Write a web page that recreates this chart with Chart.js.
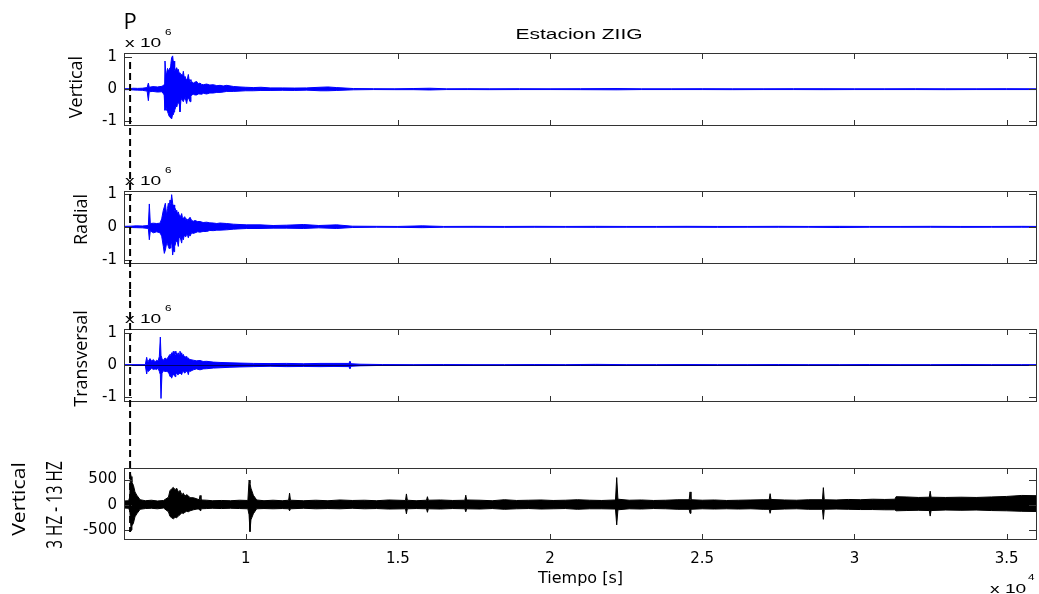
<!DOCTYPE html>
<html>
<head>
<meta charset="utf-8">
<script src="https://cdn.jsdelivr.net/npm/chart.js@4.4.1/dist/chart.umd.min.js"></script>
<style>
  body { margin: 0; background: #fff; }
  #wrap { position: relative; width: 1039px; height: 594px; overflow: hidden; background: #fff; }
  #wrap canvas { position: absolute; left: 0; }
</style>
</head>
<body>
<div id="wrap">
  <canvas id="c1" width="1039" height="150" style="top:0px"></canvas>
  <canvas id="c2" width="1039" height="140" style="top:150px"></canvas>
  <canvas id="c3" width="1039" height="138" style="top:290px"></canvas>
  <canvas id="c4" width="1039" height="166" style="top:428px"></canvas>
</div>
<script>
// time axis (s)
const tMin = 6000, tMax = 36000;
const xTicks = [10000, 15000, 20000, 25000, 30000, 35000];
const pArrival = 6200;

// Vertical (x 10^6) - upper / lower envelope
const vertT  = [6000,6200,6300,6450,6600,6760,6800,6830,6950,7100,
                7250,7320,7347,7375,7402,7430,7457,7485,7512,7540,
                7566,7599,7620,7643,7665,7687,7710,7731,7760,7785,
                7810,7840,7870,7895,7920,7950,7980,8004,8030,8059,
                8090,8114,8140,8169,8200,8224,8278,8330,8388,8440,
                8497,8550,8607,8716,8820,8935,9050,9155,9260,9374,
                9593,9812,10000,10250,10500,10800,11200,11600,12000,12440,12700,12990,
                13540,14200,14900,15500,16050,16600,17300,18000,19000,20000,21000,22200,23000,24000,25000,26000,27000,28000,29000,30000,31000,32000,33000,34000,35000,36000];
const vertHi = [0.015,0.015,0.03,0.025,0.03,0.05,0.19,0.06,0.08,0.07,
                0.09,0.14,0.88,0.45,0.51,0.65,0.56,0.62,0.67,0.80,
                0.99,1.04,0.85,0.88,0.60,0.56,0.65,0.67,0.58,0.62,
                0.50,0.51,0.45,0.46,0.40,0.56,0.35,0.40,0.32,0.30,
                0.35,0.46,0.28,0.30,0.25,0.24,0.19,0.22,0.24,0.17,
                0.19,0.15,0.14,0.16,0.13,0.14,0.11,0.12,0.10,0.12,
                0.085,0.07,0.06,0.05,0.06,0.04,0.04,0.035,0.04,0.06,0.07,0.05,
                0.02,0.015,0.012,0.02,0.03,0.012,0.015,0.012,0.015,0.012,0.015,0.02,0.012,0.012,0.015,0.012,0.012,0.015,0.015,0.012,0.012,0.015,0.012,0.012,0.015,0.012];
const vertLo = [-0.015,-0.015,-0.025,-0.03,-0.035,-0.06,-0.36,-0.08,-0.07,-0.09,
                -0.08,-0.18,-0.66,-0.55,-0.66,-0.70,-0.77,-0.85,-0.87,-0.90,
                -0.93,-0.78,-0.80,-0.71,-0.65,-0.61,-0.50,-0.55,-0.45,-0.45,
                -0.40,-0.71,-0.35,-0.29,-0.36,-0.39,-0.30,-0.23,-0.35,-0.45,
                -0.28,-0.29,-0.32,-0.39,-0.22,-0.18,-0.16,-0.18,-0.18,-0.15,
                -0.15,-0.16,-0.13,-0.15,-0.12,-0.12,-0.10,-0.10,-0.09,-0.07,
                -0.07,-0.06,-0.05,-0.05,-0.04,-0.04,-0.035,-0.04,-0.03,-0.05,-0.05,-0.04,
                -0.02,-0.012,-0.015,-0.015,-0.025,-0.012,-0.012,-0.015,-0.012,-0.012,-0.015,-0.02,-0.012,-0.012,-0.012,-0.015,-0.012,-0.012,-0.015,-0.012,-0.012,-0.012,-0.015,-0.012,-0.012,-0.012];

// Radial (x 10^6)
const radT  = [6000,6200,6400,6600,6800,6832,6865,6964,7073,7183,
               7238,7292,7325,7358,7402,7430,7457,7485,7512,7540,
               7566,7599,7620,7643,7665,7687,7710,7731,7760,7785,
               7810,7840,7870,7895,7920,7950,7980,8004,8030,8059,
               8090,8114,8140,8169,8224,8280,8333,8420,8497,8600,
               8716,8820,8935,9050,9155,9374,9593,10031,10469,10900,
               11345,11893,12400,12988,
               13500,14300,15000,15800,16500,17500,18500,19500,20500,21500,22500,23500,24500,25500,26500,27500,28500,29500,30500,31500,32500,33500,34500,35500,36000];
const radHi = [0.015,0.02,0.03,0.025,0.04,0.69,0.10,0.11,0.10,0.11,
               0.24,0.50,0.60,0.71,0.34,0.55,0.71,0.62,0.81,0.70,
               0.97,0.71,0.62,0.66,0.50,0.55,0.46,0.50,0.38,0.45,
               0.36,0.34,0.30,0.40,0.28,0.24,0.30,0.29,0.22,0.24,
               0.20,0.24,0.22,0.29,0.19,0.17,0.19,0.16,0.16,0.13,
               0.14,0.12,0.115,0.10,0.115,0.10,0.08,0.06,0.06,0.04,
               0.05,0.07,0.04,0.06,
               0.02,0.015,0.012,0.03,0.012,0.015,0.012,0.015,0.012,0.015,0.012,0.012,0.015,0.012,0.012,0.015,0.012,0.015,0.012,0.012,0.015,0.012,0.012,0.015,0.012];
const radLo = [-0.015,-0.02,-0.025,-0.03,-0.05,-0.39,-0.12,-0.18,-0.15,-0.18,
               -0.28,-0.59,-0.80,-0.70,-0.49,-0.52,-0.59,-0.66,-0.64,-0.55,
               -0.44,-0.85,-0.70,-0.75,-0.58,-0.54,-0.40,-0.44,-0.48,-0.59,
               -0.32,-0.28,-0.40,-0.49,-0.30,-0.39,-0.25,-0.28,-0.30,-0.23,
               -0.26,-0.33,-0.22,-0.28,-0.18,-0.20,-0.18,-0.15,-0.16,-0.14,
               -0.14,-0.11,-0.115,-0.10,-0.10,-0.09,-0.07,-0.05,-0.05,-0.04,
               -0.04,-0.05,-0.03,-0.05,
               -0.02,-0.012,-0.015,-0.025,-0.012,-0.012,-0.015,-0.012,-0.012,-0.015,-0.012,-0.012,-0.012,-0.015,-0.012,-0.012,-0.012,-0.02,-0.012,-0.012,-0.012,-0.015,-0.012,-0.012,-0.012];

// Transversal (x 10^6)
const transT  = [6000,6700,6745,6775,6800,6854,6910,6964,7020,7073,
                 7120,7161,7194,7216,7249,7300,7347,7400,7457,7485,
                 7512,7540,7566,7595,7621,7650,7676,7705,7731,7760,
                 7785,7810,7840,7870,7895,7920,7950,7980,8004,8030,
                 8059,8090,8114,8140,8169,8278,8380,8497,8600,8716,
                 8935,9155,9483,9812,10250,10800,11345,11900,12440,12900,
                 13390,13426,13460,13755,
                 14500,15500,16500,17500,18500,19500,20500,21500,22500,23500,24500,25500,26500,27500,28500,29500,30500,31500,32500,33500,34500,35500,36000];
const transHi = [0.012,0.012,0.24,0.10,0.12,0.20,0.12,0.17,0.10,0.15,
                 0.12,0.27,0.87,0.30,0.20,0.15,0.22,0.18,0.25,0.30,
                 0.33,0.30,0.38,0.36,0.43,0.35,0.43,0.33,0.38,0.32,
                 0.38,0.30,0.43,0.33,0.38,0.28,0.33,0.25,0.27,0.22,
                 0.27,0.20,0.22,0.18,0.17,0.15,0.13,0.14,0.11,0.115,
                 0.09,0.08,0.07,0.06,0.05,0.045,0.05,0.04,0.05,0.05,
                 0.05,0.12,0.04,0.025,
                 0.015,0.012,0.015,0.012,0.012,0.015,0.012,0.02,0.012,0.012,0.015,0.012,0.012,0.015,0.012,0.012,0.015,0.012,0.012,0.015,0.012,0.012,0.012];
const transLo = [-0.012,-0.012,-0.28,-0.12,-0.20,-0.15,-0.10,-0.14,-0.12,-0.14,
                 -0.10,-0.20,-0.30,-1.04,-0.25,-0.18,-0.20,-0.20,-0.22,-0.28,
                 -0.36,-0.30,-0.41,-0.33,-0.30,-0.32,-0.36,-0.28,-0.25,-0.30,
                 -0.30,-0.26,-0.25,-0.28,-0.30,-0.22,-0.20,-0.24,-0.25,-0.20,
                 -0.20,-0.22,-0.30,-0.18,-0.20,-0.15,-0.12,-0.15,-0.12,-0.115,
                 -0.095,-0.085,-0.07,-0.06,-0.05,-0.04,-0.05,-0.045,-0.05,-0.045,
                 -0.05,-0.12,-0.04,-0.025,
                 -0.012,-0.015,-0.012,-0.012,-0.015,-0.012,-0.012,-0.015,-0.012,-0.012,-0.012,-0.015,-0.012,-0.012,-0.012,-0.015,-0.012,-0.012,-0.012,-0.012,-0.015,-0.012,-0.012];

// Vertical filtered 3 Hz - 13 Hz (counts)
const filtT  = [6000,6150,6190,6210,6235,6260,6310,6360,6420,6530,
                6700,6900,7100,7300,7460,7510,7570,7620,7680,7730,
                7790,7840,7900,7950,8000,8060,8110,8170,8280,8400,
                8470,8500,8530,8720,8900,9200,9500,9800,10070,10110,
                10140,10170,10250,10360,10600,10900,11200,11410,11440,11470,
                11900,12300,12700,13100,13500,13900,14300,14700,15250,15280,
                15310,15600,15940,15970,16000,16400,16800,17200,17230,17260,
                17700,18100,18500,18900,19300,19700,20100,20500,20900,21300,
                21700,22150,22190,22230,22600,23000,23400,23800,24200,24570,
                24600,24630,25000,25400,25800,26200,26600,27000,27200,27230,
                27260,27700,28100,28500,28950,28980,29010,29400,29800,30200,
                30600,31000,31330,31370,31700,32100,32460,32490,32520,33000,
                33500,34000,34500,35000,35500,36000];
const filtHi = [75,80,150,620,560,450,385,255,190,100,
                80,90,75,85,150,280,320,345,300,330,
                250,285,200,230,170,200,180,140,140,115,
                100,185,95,90,80,85,80,90,85,490,
                420,330,190,95,80,90,80,90,230,90,
                80,90,80,95,85,90,80,95,85,215,
                90,80,90,160,90,95,85,90,190,95,
                90,80,100,85,90,95,85,90,100,90,
                85,95,540,110,90,95,85,90,100,100,
                255,100,90,95,85,90,95,100,100,220,
                105,95,90,100,100,340,100,95,105,100,
                110,105,110,160,155,145,150,270,150,145,
                150,145,155,165,185,180];
const filtLo = [-65,-70,-120,-300,-500,-420,-365,-240,-180,-90,
                -75,-70,-80,-65,-140,-230,-260,-280,-250,-260,
                -220,-200,-160,-175,-150,-130,-140,-120,-100,-85,
                -85,-115,-80,-75,-70,-75,-70,-75,-80,-200,
                -535,-300,-180,-80,-75,-80,-75,-80,-120,-80,
                -70,-80,-75,-80,-70,-80,-75,-85,-80,-180,
                -80,-75,-80,-150,-80,-85,-75,-80,-140,-80,
                -85,-75,-90,-80,-75,-85,-80,-75,-90,-80,
                -80,-85,-400,-100,-80,-85,-75,-80,-90,-90,
                -170,-90,-80,-85,-80,-85,-80,-90,-90,-170,
                -95,-85,-80,-90,-90,-290,-90,-85,-90,-95,
                -95,-100,-100,-120,-115,-110,-115,-225,-115,-105,
                -110,-105,-115,-120,-130,-135];

function pts(t, v) {
    return t.map(function (tt, i) { return {x: tt, y: v[i]}; });
}

//two lines with the gap between them filled -> the dense seismogram band
function trace(t, hi, lo, color) {
    return [
        {data: pts(t, hi), borderColor: color, backgroundColor: color, borderWidth: 1, pointRadius: 0, fill: false},
        {data: pts(t, lo), borderColor: color, backgroundColor: color, borderWidth: 1, pointRadius: 0, fill: '-1'}
    ];
}

function drawText(ctx, t) {
    ctx.save();
    ctx.translate(t.x, t.y);
    if (t.rot) ctx.rotate(t.rot);
    ctx.scale(t.sx || 1, 1);
    ctx.font = t.font;
    ctx.fillStyle = '#000';
    ctx.textAlign = t.align || 'left';
    ctx.textBaseline = 'alphabetic';
    ctx.fillText(t.s, 0, 0);
    ctx.restore();
}

// matlab-ish box, inner ticks, P dashed marker and extra texts
const frame = {
    id: 'frame',
    afterDatasetsDraw(chart, args, o) {
        const ctx = chart.ctx, a = chart.chartArea, x = chart.scales.x, y = chart.scales.y;
        ctx.save();
        if (o.zeroLine) {
            const zy = Math.round(y.getPixelForValue(0)) + 0.5;
            ctx.strokeStyle = o.zeroLine;
            ctx.lineWidth = 1;
            ctx.beginPath();
            ctx.moveTo(a.left, zy);
            ctx.lineTo(a.right, zy);
            ctx.stroke();
        }
        ctx.strokeStyle = '#333';
        ctx.lineWidth = 1;
        ctx.beginPath();
        x.ticks.forEach(function (t) {
            const px = Math.round(x.getPixelForValue(t.value)) + 0.5;
            ctx.moveTo(px, a.top); ctx.lineTo(px, a.top + 6);
            ctx.moveTo(px, a.bottom); ctx.lineTo(px, a.bottom - 6);
        });
        y.ticks.forEach(function (t) {
            const py = Math.round(y.getPixelForValue(t.value)) + 0.5;
            ctx.moveTo(a.left, py); ctx.lineTo(a.left + 8, py);
            ctx.moveTo(a.right, py); ctx.lineTo(a.right - 8, py);
        });
        ctx.stroke();
        ctx.strokeRect(a.left + 0.5, a.top + 0.5, a.width - 1, a.height - 1);
        ctx.restore();
    },
    afterDraw(chart, args, o) {
        const ctx = chart.ctx, a = chart.chartArea;
        const px = chart.scales.x.getPixelForValue(pArrival);
        ctx.save();
        ctx.strokeStyle = '#000';
        ctx.lineWidth = 2;
        ctx.setLineDash([7, 4]);
        ctx.beginPath();
        ctx.moveTo(px, o.dash[0]);
        ctx.lineTo(px, o.dash[1]);
        ctx.stroke();
        ctx.restore();
        if (o.exp) {
            drawText(ctx, {s: 'x 10', x: a.left + 1, y: a.top - 6.5, font: '12px "Liberation Sans"', sx: 1.6});
            drawText(ctx, {s: o.exp, x: a.left + 41, y: a.top - 18.5, font: '9px "Liberation Sans"', sx: 1.3});
        }
        if (o.pMark) {
            drawText(ctx, {s: 'P', x: px, y: 29, font: '22px "Open Sans"', align: 'center'});
        }
        (o.texts || []).forEach(function (t) { drawText(ctx, t); });
    }
};

const tickFont = {family: 'DejaVu Sans', size: 15};

function makePanel(id, datasets, yMin, yMax, yTicks, pad, xAxisH, extra, showX) {
    return new Chart(document.getElementById(id), {
        type: 'line',
        data: {datasets: datasets},
        plugins: [frame],
        options: {
            responsive: false,
            animation: false,
            events: [],
            layout: {padding: {left: 0, right: 2, top: pad[0], bottom: pad[1]}},
            plugins: {legend: {display: false}, tooltip: {enabled: false}, frame: extra},
            scales: {
                x: {
                    type: 'linear', min: tMin, max: tMax,
                    afterBuildTicks: function (s) { s.ticks = xTicks.map(function (v) { return {value: v}; }); },
                    afterFit: function (s) { s.height = xAxisH; },
                    grid: {display: false, drawTicks: false},
                    border: {display: false},
                    ticks: {display: showX, padding: 10, font: tickFont, color: '#000', maxRotation: 0,
                        callback: function (v) { return String(v / 1e4); }},
                    title: {display: showX, text: 'Tiempo [s]', color: '#000',
                        font: {family: 'DejaVu Sans', size: 16}, padding: {top: 0, bottom: 6}}
                },
                y: {
                    min: yMin, max: yMax,
                    afterBuildTicks: function (s) { s.ticks = yTicks.map(function (v) { return {value: v}; }); },
                    afterFit: function (s) { s.width = 124; },
                    grid: {display: false, drawTicks: false},
                    border: {display: false},
                    ticks: {padding: 7, font: tickFont, color: '#000'}
                }
            }
        }
    });
}

const blue = '#0000ff';
const rot = -Math.PI / 2;

makePanel('c1', trace(vertT, vertHi, vertLo, blue), -1.15, 1.13, [-1, 0, 1], [53, 24], 0, {
    dash: [62, 150], exp: '6', pMark: true,
    texts: [
        {s: 'Estacion ZIIG', x: 579, y: 38.5, font: '14px "Liberation Sans"', align: 'center', sx: 1.5},
        {s: 'Vertical', x: 82, y: 87, rot: rot, font: '18px "Open Sans"', align: 'center'}
    ]
}, false);

makePanel('c2', trace(radT, radHi, radLo, blue), -1.12, 1.08, [-1, 0, 1], [41, 26], 0, {
    dash: [0, 140], exp: '6',
    texts: [{s: 'Radial', x: 87, y: 69.5, rot: rot, font: '18px "Open Sans"', align: 'center'}]
}, false);

makePanel('c3', trace(transT, transHi, transLo, blue), -1.15, 1.12, [-1, 0, 1], [39, 26], 0, {
    dash: [0, 138], exp: '6', zeroLine: '#00006e',
    texts: [{s: 'Transversal', x: 87, y: 68.5, rot: rot, font: '18px "Open Sans"', align: 'center'}]
}, false);

makePanel('c4', trace(filtT, filtHi, filtLo, '#000'), -700, 730, [-500, 0, 500], [40, 0], 54, {
    dash: [0, 104],
    texts: [
        {s: 'Vertical', x: 25, y: 71, rot: rot, font: '19px "Open Sans"', align: 'center', sx: 1.12},
        {s: '3 HZ - 13 HZ', x: 61.5, y: 77, rot: rot, font: '21px "Open Sans"', align: 'center', sx: 0.73},
        {s: 'x 10', x: 990, y: 165, font: '12px "Liberation Sans"', sx: 1.6},
        {s: '4', x: 1028, y: 152, font: '9px "Liberation Sans"', sx: 1.3}
    ]
}, true);
</script>
</body>
</html>
